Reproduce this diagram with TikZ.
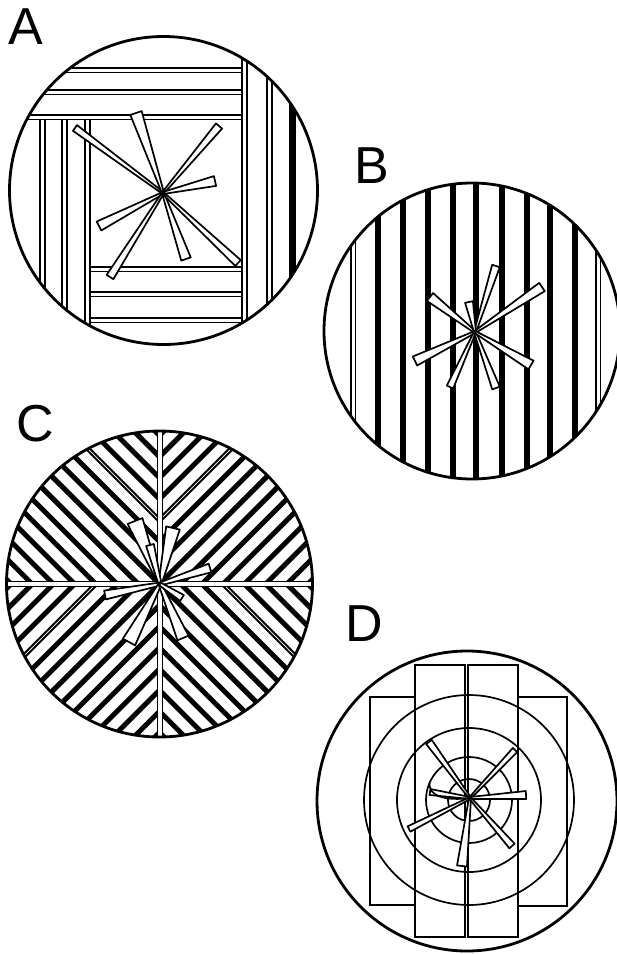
\documentclass[tikz,border=0pt]{standalone}
\usepackage{fontspec}
\setmainfont{Liberation Sans}
\usetikzlibrary{calc}

% one crystal needle: from centre #1 to tip #2, half widths #3 (centre) and #4 (tip)
\newcommand{\crystal}[4]{%
  \filldraw[needle] ($(#1)!#3pt!90:(#2)$) -- ($(#2)!#4pt!-90:(#1)$)
    -- ($(#2)!#4pt!90:(#1)$) -- ($(#1)!#3pt!-90:(#2)$) -- cycle;}

\begin{document}
\begin{tikzpicture}[x=1pt, y=-1pt,
  rim/.style={line width=2.8pt},
  ring/.style={line width=1.7pt},
  seam/.style={draw, line width=1.8pt, fill=white},
  stripe/.style={line width=5pt},
  needle/.style={draw, line width=1.7pt, fill=white, line join=round},
  lbl/.style={inner sep=0pt, font=\fontsize{52}{52}\selectfont}
]
\useasboundingbox (0,0) rectangle (617,954);

\coordinate (ctrA) at (163.5,190.5);
\coordinate (starA) at (163,193);
\coordinate (ctrB) at (472,331);
\coordinate (starB) at (475,332);
\coordinate (ctrC) at (159.5,584);
\coordinate (starC) at (160,584);
\coordinate (ctrD) at (467,801);
\coordinate (starD) at (470,798);

% A: boards round a square
\begin{scope}
  \clip (ctrA) circle (154pt);
  \foreach \y in {68,90,115} \draw[seam] (0,\y) rectangle (242,\y+4.5);
  \foreach \x in {242,267} \draw[seam] (\x,0) rectangle (\x+5,400);
  \draw[seam, fill=black] (290,0) rectangle (295,400);
  \foreach \x in {40,62,85} \draw[seam] (\x,119.5) rectangle (\x+5,400);
  \foreach \y in {267,292,318} \draw[seam] (90,\y) rectangle (242,\y+4.5);
\end{scope}
\foreach \ex/\ey/\w in {75/128/3.5, 136/113/6, 219/126/4, 215/181/5,
                        99/226/5, 110/277/4, 186/259/5, 238/263/4}
  {\crystal{starA}{\ex,\ey}{1}{\w}}
\draw[rim] (ctrA) circle (154pt);

% B: parallel boards
\begin{scope}
  \clip (ctrB) circle (148pt);
  \foreach \x in {378,403,428,453,476,502,527,550,575}
    \fill (\x-2.8,150) rectangle (\x+2.8,500);
  \foreach \x in {351,596} \draw[seam] (\x,150) rectangle (\x+4.5,500);
\end{scope}
\foreach \ex/\ey/\w in {430/297/5, 496/266/4, 469/302/4, 542/287/5,
                        415/361/5, 450/387/3.5, 496/388/4, 531/365/5}
  {\crystal{starB}{\ex,\ey}{1}{\w}}
\draw[rim] (ctrB) circle (148pt);

% C: four quadrants of diagonal boards
\begin{scope}
  \clip (ctrC) circle (153pt);
  \foreach \qx/\qy/\rot in {1/-1/45, -1/1/45, -1/-1/-45, 1/1/-45} {
    \begin{scope}
      \clip (ctrC) rectangle ++(160*\qx,160*\qy);
      \begin{scope}[shift={(ctrC)}, rotate=\rot]
        \foreach \d in {-105,-90,...,105} \draw[stripe] (-250,\d) -- (250,\d);
        \draw[white, line width=0.8pt] (-250,-45) -- (250,-45);
      \end{scope}
    \end{scope}
  }
  \draw[seam] (157.5,420) rectangle (162.5,750);
  \draw[seam] (0,581.5) rectangle (320,586.5);
\end{scope}
\foreach \ex/\ey/\w in {135/521/8, 173/528/7, 150/545/4, 210/568/4.5,
                        105/595/4.5, 129/642/7, 183/638/6, 182/598/3.5}
  {\crystal{starC}{\ex,\ey}{1.5}{\w}}
\draw[rim] (ctrC) circle (153pt);

% D: rings and four boards
\foreach \r in {21,43,72,105} \draw[ring] (469,800) circle (\r pt);
\draw[ring] (370,697) rectangle (415,905);
\draw[ring] (415,665) rectangle (465,937);
\draw[ring] (468,665) rectangle (518,937);
\draw[ring] (518,697) rectangle (567,906);
\foreach \ex/\ey/\w in {429/742/3.5, 515/750/3, 526/795/4, 430/792/3,
                        409/829/3, 462/866/5, 512/846/3.5}
  {\crystal{starD}{\ex,\ey}{1}{\w}}
\draw[line width=1.7pt] (starD) .. controls (448,801) and (426,797) .. (430,781);
\draw[rim] (ctrD) circle (150pt);

\node[lbl] (labA) at (26,27) {A};
\node[lbl] (labB) at (372,166) {B};
\node[lbl] (labC) at (35,424) {C};
\node[lbl] (labD) at (364,624) {D};
\end{tikzpicture}
\end{document}
